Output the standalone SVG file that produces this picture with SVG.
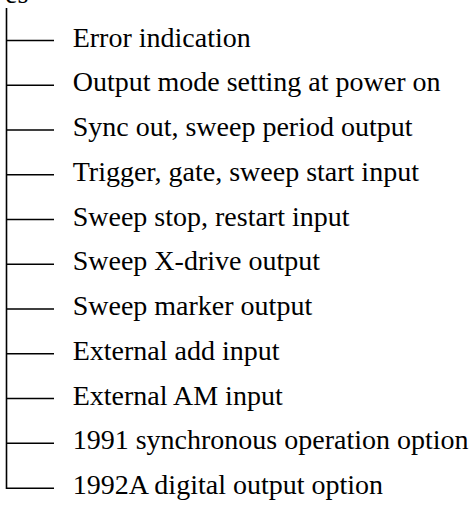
<svg xmlns="http://www.w3.org/2000/svg" width="473" height="507" viewBox="0 0 473 507">
<style>
.lbl{font-family:"Liberation Serif","Times New Roman",serif;font-size:28px;fill:#000}
.ln{stroke:#000;stroke-width:1.6;fill:none}
</style>
<rect width="473" height="507" fill="#fff"/>
<text class="lbl" x="5" y="2.5">es</text>
<g id="connectors">
<path class="ln" d="M6.5,8 V488.3 H54"/>
<path class="ln" d="M6.5,40.5 H54 M6.5,85.3 H54 M6.5,130 H54 M6.5,174.8 H54 M6.5,219.5 H54 M6.5,264.3 H54 M6.5,309 H54 M6.5,353.8 H54 M6.5,398.5 H54 M6.5,443.3 H54"/>
</g>
<g id="n1"><text class="lbl" x="72.7" y="46.5">Error indication</text></g>
<g id="n2"><text class="lbl" x="72.7" y="91.3">Output mode setting at power on</text></g>
<g id="n3"><text class="lbl" x="72.7" y="136">Sync out, sweep period output</text></g>
<g id="n4"><text class="lbl" x="72.7" y="180.8">Trigger, gate, sweep start input</text></g>
<g id="n5"><text class="lbl" x="72.7" y="225.5">Sweep stop, restart input</text></g>
<g id="n6"><text class="lbl" x="72.7" y="270.3">Sweep X-drive output</text></g>
<g id="n7"><text class="lbl" x="72.7" y="315">Sweep marker output</text></g>
<g id="n8"><text class="lbl" x="72.7" y="359.8">External add input</text></g>
<g id="n9"><text class="lbl" x="72.7" y="404.5">External AM input</text></g>
<g id="n10"><text class="lbl" x="72.7" y="449.3">1991 synchronous operation option</text></g>
<g id="n11"><text class="lbl" x="72.7" y="494">1992A digital output option</text></g>
</svg>
